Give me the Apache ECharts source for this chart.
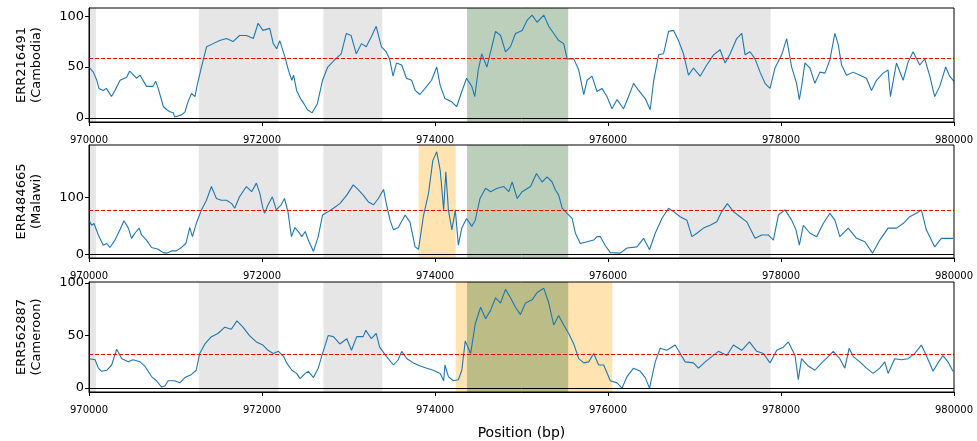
<!DOCTYPE html>
<head>
    <meta charset="UTF-8">
    <title>coverage</title>
    <script src="https://cdn.jsdelivr.net/npm/echarts@6/dist/echarts.min.js"></script>
    <style>
        html, body { margin: 0; padding: 0; background: #fff; }
        #chart { width: 977px; height: 441px; }
    </style>
</head>
<body>
<div id="chart"></div>
<script type="text/javascript">
// 位置 (bp) 与覆盖度, 每个样本一组
var pos1 = [970000,970050,970090,970115,970165,970200,970260,970300,970360,970435,970470,970550,970590,970665,970740,970770,970800,970860,970900,970935,970975,970990,971070,971110,971145,971185,971225,971250,971300,971360,971435,971510,971590,971665,971740,971820,971900,971955,972010,972090,972130,972170,972205,972265,972305,972345,972365,972400,972445,972485,972525,972580,972640,972700,972760,972840,972915,972975,973030,973090,973150,973205,973265,973320,973380,973435,973475,973515,973555,973615,973670,973730,973770,973825,973885,973960,974020,974060,974115,974190,974250,974310,974365,974425,974460,974500,974540,974600,974700,974758,974815,974873,974930,975008,975065,975123,975180,975258,975315,975373,975430,975488,975527,975604,975662,975720,975758,975815,975873,975930,975988,976046,976104,976180,976238,976296,976354,976430,976488,976527,976585,976642,976700,976758,976815,976873,976930,976988,977065,977142,977220,977296,977354,977412,977488,977546,977585,977642,977700,977758,977815,977873,977930,978008,978065,978123,978180,978212,978238,978277,978335,978392,978450,978508,978565,978623,978662,978700,978758,978835,978912,978988,979046,979104,979180,979238,979265,979335,979412,979470,979527,979604,979662,979720,979777,979835,979904,979950,980000];
var cov1 = [50,45,37,29,27,29,21,27,37,40,46,39,42,31,31,36,29,11,8,6,5,1,3,6,16,24,21,32,50,70,73,76,78,75,81,81,78,93,86,88,73,68,76,60,47,37,42,27,19,14,8,5,14,37,50,57,63,83,81,63,73,70,80,90,70,65,58,41,54,52,39,37,27,23,29,37,50,32,19,16,11,26,39,31,21,47,63,50,85,81,65,70,83,86,96,101,94,101,90,83,76,73,58,58,47,23,37,41,26,29,21,9,18,9,21,34,27,19,8,36,62,63,85,86,76,63,42,49,41,52,62,67,54,63,78,83,62,65,58,45,34,29,49,62,78,50,34,18,31,54,49,34,45,44,57,83,72,52,42,45,42,39,27,37,44,47,21,54,37,55,65,52,58,41,21,31,50,41,36];

var pos2 = [970000,970030,970058,970108,970165,970205,970242,970300,970358,970404,970455,970492,970530,970580,970608,970665,970723,970800,970858,970896,970954,971010,971070,971120,971165,971196,971240,971300,971358,971415,971473,971530,971590,971650,971685,971740,971820,971880,971935,971975,972010,972030,972070,972120,972165,972222,972260,972300,972340,972380,972420,972460,972500,972535,972595,972650,972700,972765,972825,972900,972980,973055,973115,973170,973230,973290,973345,973405,973440,973480,973520,973575,973655,973710,973770,973810,973865,973925,973975,974020,974060,974100,974125,974155,974195,974235,974270,974310,974365,974425,974465,974520,974585,974642,974720,974796,974854,974892,974950,975008,975104,975173,975238,975296,975354,975392,975430,975470,975527,975585,975623,975680,975758,975835,975873,975912,975970,976027,976142,976220,976335,976412,976480,976546,976623,976700,976758,976835,976912,976970,977027,977104,977180,977258,977315,977380,977450,977527,977604,977700,977777,977854,977912,977970,978046,978123,978173,978212,978258,978335,978412,978488,978565,978623,978680,978777,978873,978970,979058,979142,979238,979335,979412,979488,979565,979623,979680,979777,979854,979930,979988];
var cov2 = [60,51,54,34,16,19,12,25,43,59,46,28,37,46,34,25,12,9,3,2,6,6,12,19,47,31,54,78,95,119,98,95,95,89,81,101,119,110,125,107,81,72,87,101,78,87,98,75,31,47,40,31,40,25,5,31,69,75,81,89,104,122,113,104,92,87,98,114,87,60,43,47,69,57,13,9,66,107,165,180,148,78,145,78,43,78,16,46,63,49,60,98,116,110,116,119,110,127,98,110,119,142,127,136,127,113,104,81,72,63,37,19,22,25,31,31,15,3,2,11,13,28,8,37,63,81,75,66,60,31,37,46,51,57,75,89,75,66,57,28,34,34,25,69,78,60,43,16,51,37,31,54,72,60,31,46,28,22,2,25,46,46,54,66,72,78,43,13,28,28,28];

var pos3 = [970000,970070,970108,970145,970205,970262,970320,970380,970455,970510,970590,970645,970723,970780,970840,970877,970915,970990,971050,971108,971185,971240,971280,971340,971415,971490,971570,971645,971710,971780,971855,971935,972010,972070,972130,972190,972250,972285,972345,972400,972440,972500,972535,972595,972650,972700,972765,972825,972900,972980,973035,973095,973170,973200,973265,973320,973360,973440,973520,973575,973615,973675,973750,973830,973905,973980,974060,974100,974115,974155,974210,974270,974310,974350,974385,974412,974465,974527,974585,974642,974700,974758,974815,974873,974930,974988,975046,975123,975180,975258,975315,975373,975430,975488,975546,975604,975662,975720,975777,975835,975892,975950,976027,976104,976162,976220,976296,976373,976430,976480,976546,976604,976680,976777,976835,976892,976988,977046,977123,977200,977277,977373,977450,977546,977635,977720,977796,977873,977950,978027,978085,978162,978200,978238,978315,978392,978470,978546,978604,978680,978738,978788,978835,978912,978988,979065,979142,979200,979238,979315,979392,979470,979546,979623,979680,979758,979815,979873,979930,979988];
var cov3 = [28,27,19,16,17,22,37,28,25,27,25,21,11,7,1,2,7,7,5,10,13,17,33,42,49,52,58,56,64,58,50,44,41,36,33,35,30,24,17,14,9,14,16,10,19,33,50,49,42,47,36,49,49,55,47,52,39,30,22,27,35,28,24,21,19,17,14,7,22,11,7,8,17,45,38,33,61,77,66,74,86,81,94,86,77,70,81,84,91,95,81,60,69,60,52,42,28,24,25,33,22,22,7,5,0,11,19,16,10,0,25,38,36,41,33,25,24,19,25,30,35,31,41,36,44,35,33,24,36,39,44,31,8,28,21,17,24,30,35,28,19,38,30,25,19,14,19,25,14,28,27,28,33,41,31,16,24,31,25,16];

var names = ['ERR216491\n(Cambodia)', 'ERR484665\n(Malawi)', 'ERR562887\n(Cameroon)'];
var thresholds = [58.5, 77, 32.7];
var yMin = [-4, -6.5, -3.7];
var yMax = [108, 192, 101];
var yTicks = [[0, 50, 100], [0, 100], [0, 50, 100]];

// 阴影区间 [起, 止]
var greyRegions = [[970000, 970080], [971270, 972190], [972710, 973390], [976820, 977880]];
var greenRegion = [974370, 975540];
var orangeRegions = [null, [973810, 974240], [974240, 976050]];

var grids = [
    {left: 89, right: 23, top: 8, height: 114},
    {left: 89, right: 23, top: 145, height: 113},
    {left: 89, right: 23, top: 282, height: 112}
];

var font = 'DejaVu Sans';
var myChart = echarts.init(document.getElementById('chart'), null, {renderer: 'canvas'});

function zip(a, b) {
    var out = [];
    for (var i = 0; i < a.length; i++) out.push([a[i], b[i]]);
    return out;
}

var allPos = [pos1, pos2, pos3];
var allCov = [cov1, cov2, cov3];

var option = {
    animation: false,
    grid: [],
    xAxis: [],
    yAxis: [],
    series: []
};

for (var i = 0; i < 3; i++) {
    var g = grids[i];
    option.grid.push({
        left: g.left, right: g.right, top: g.top, height: g.height,
        show: true, z: 10,
        backgroundColor: 'transparent',
        borderColor: '#000', borderWidth: 1
    });
    option.xAxis.push({
        type: 'value', gridIndex: i,
        min: 970000, max: 980000, interval: 2000,
        axisLine: {show: true, onZero: false, lineStyle: {color: '#000'}},
        axisTick: {show: true, length: 4, lineStyle: {color: '#000'}},
        splitLine: {show: false},
        axisLabel: {
            fontFamily: font, fontSize: 10, color: '#000', margin: 13,
            formatter: function (v) { return String(v); }
        },
        name: i == 2 ? 'Position (bp)' : '',
        nameLocation: 'middle', nameGap: 34,
        nameTextStyle: {fontFamily: font, fontSize: 14, color: '#000'}
    });
    option.yAxis.push({
        type: 'value', gridIndex: i,
        min: yMin[i], max: yMax[i],
        axisLine: {show: true, onZero: false, lineStyle: {color: '#000'}},
        axisTick: {show: true, length: 4, customValues: yTicks[i], lineStyle: {color: '#000'}},
        axisLabel: {customValues: yTicks[i], fontFamily: font, fontSize: 13, color: '#000', margin: 5},
        splitLine: {show: false},
        name: names[i], nameLocation: 'middle', nameRotate: 90, nameGap: 45,
        nameTextStyle: {fontFamily: font, fontSize: 13, color: '#000', lineHeight: 15, align: 'center'}
    });

    var areas = [];
    greyRegions.forEach(function (r) {
        areas.push([{xAxis: r[0], itemStyle: {color: 'rgba(128,128,128,0.2)'}}, {xAxis: r[1]}]);
    });
    if (orangeRegions[i]) {
        areas.push([{xAxis: orangeRegions[i][0], itemStyle: {color: 'rgba(255,165,0,0.3)'}}, {xAxis: orangeRegions[i][1]}]);
    }
    areas.push([{xAxis: greenRegion[0], itemStyle: {color: 'rgba(30,95,30,0.3)'}}, {xAxis: greenRegion[1]}]);

    option.series.push({
        type: 'line',
        xAxisIndex: i, yAxisIndex: i,
        data: zip(allPos[i], allCov[i]),
        showSymbol: false, symbol: 'none',
        lineStyle: {color: '#1f77b4', width: 1.1},
        itemStyle: {color: '#1f77b4'},
        silent: true,
        markArea: {silent: true, data: areas},
        markLine: {
            silent: true, symbol: 'none', label: {show: false},
            data: [
                {yAxis: 0, lineStyle: {color: '#000', type: 'solid', width: 1}},
                {yAxis: thresholds[i], lineStyle: {color: '#ff0000', type: [4, 2], width: 1}}
            ]
        }
    });
}

myChart.setOption(option, true);
</script>
</body>
</html>
